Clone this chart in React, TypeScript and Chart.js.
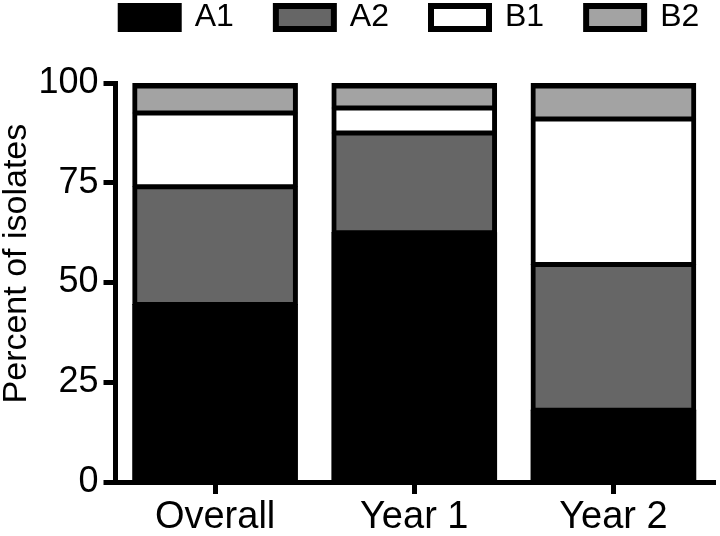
import React, { useEffect, useRef } from "react";
import { Chart, registerables } from "chart.js";

Chart.register(...registerables);

const categories = ["Overall", "Year 1", "Year 2"];
const seriesNames = ["A1", "A2", "B1", "B2"];
const a1Values = [44.5, 62.5, 18];
const a2Values = [29.5, 25, 36.5];
const b1Values = [18.5, 6.25, 36.5];
const b2Values = [7.5, 6.25, 9];
const yTickStep = 25;
const yMin = 0;
const yMax = 100;
const yTitle = "    Percent of isolates";

const legendShift = {
  id: "legendShift",
  afterUpdate(chart: any) {
    const lg = chart.legend;
    if (!lg) return;
    lg.left += 53.5;
    lg.right += 53.5;
    lg.top -= 40.5;
    lg.bottom -= 40.5;
  },
};

export default function App() {
  const canvasRef = useRef<HTMLCanvasElement | null>(null);

  useEffect(() => {
    if (!canvasRef.current) return;
    Chart.defaults.font.family = '"Liberation Sans", Arial, Helvetica, sans-serif';
    Chart.defaults.color = "#000";

    const side = 5;
    const inner = 3;
    const mkBorder = (top: number, bottom: number) => ({ top, bottom, left: side, right: side });

    const chart = new Chart(canvasRef.current, {
      type: "bar",
      data: {
        labels: categories,
        datasets: [
          { label: seriesNames[0], data: a1Values, backgroundColor: "#000000", borderColor: "#000", borderWidth: 0 },
          { label: seriesNames[1], data: a2Values, backgroundColor: "#666666", borderColor: "#000", borderWidth: mkBorder(inner, inner) },
          { label: seriesNames[2], data: b1Values, backgroundColor: "#ffffff", borderColor: "#000", borderWidth: mkBorder(inner, inner) },
          { label: seriesNames[3], data: b2Values, backgroundColor: "#a3a3a3", borderColor: "#000", borderWidth: mkBorder(6, inner) },
        ].map((d) => ({
          ...d,
          borderSkipped: false,
          inflateAmount: 0.5,
          barPercentage: 0.827,
          categoryPercentage: 1,
        })) as any,
      },
      options: {
        animation: false,
        responsive: true,
        maintainAspectRatio: false,
        layout: { padding: { top: 0, right: 7, bottom: 0, left: 0 } },
        plugins: {
          tooltip: { enabled: false },
          legend: {
            display: true,
            position: "top",
            maxHeight: 83,
            labels: {
              boxWidth: 58,
              boxHeight: 23,
              padding: 42,
              color: "#000",
              font: { size: 32 },
              generateLabels: (c: any) =>
                (Chart.defaults.plugins.legend.labels as any)
                  .generateLabels(c)
                  .map((l: any) => ({ ...l, lineWidth: 6, strokeStyle: "#000" })),
            },
          },
        } as any,
        scales: {
          x: {
            stacked: true,
            offset: true,
            grid: {
              display: true,
              offset: false,
              drawOnChartArea: false,
              drawTicks: true,
              tickLength: 12,
              tickWidth: 5,
              tickColor: "#000",
              lineWidth: 5,
              color: "#000",
            },
            border: { display: true, color: "#000", width: 5 },
            ticks: { color: "#000", font: { size: 38 }, padding: 1, maxRotation: 0, autoSkip: false },
            afterFit: (s: any) => {
              s.height = 54;
            },
          },
          y: {
            stacked: true,
            min: yMin,
            max: yMax,
            ticks: { stepSize: yTickStep, color: "#000", font: { size: 36 }, padding: 5 },
            grid: {
              display: true,
              drawOnChartArea: false,
              drawTicks: true,
              tickLength: 12,
              tickWidth: 5,
              tickColor: "#000",
              lineWidth: 5,
              color: "#000",
            },
            border: { display: true, color: "#000", width: 5 },
            title: {
              display: true,
              text: yTitle,
              color: "#000",
              font: { size: 34 },
              padding: { top: -4, bottom: 0 },
            },
            afterFit: (s: any) => {
              s.width = 115.5;
            },
          },
        } as any,
      },
      plugins: [legendShift],
    });

    return () => chart.destroy();
  }, []);

  return (
    <div style={{ position: "absolute", left: 0, top: 0, width: 720, height: 536 }}>
      <canvas ref={canvasRef} />
    </div>
  );
}
